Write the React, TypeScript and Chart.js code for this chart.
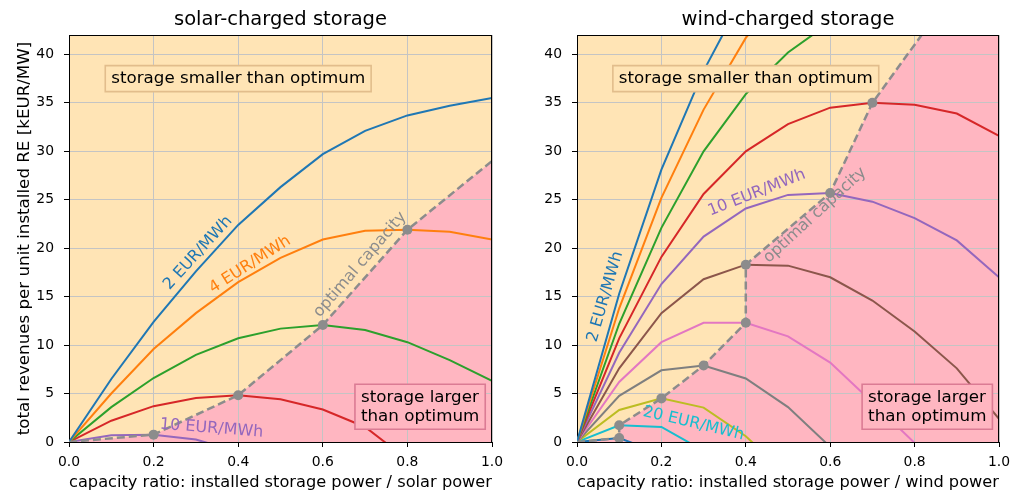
import React, { useEffect, useRef } from "react";
import { Chart, registerables } from "chart.js";

Chart.register(...registerables);

// ---------------- data ----------------
const capacityRatio = [0, 0.1, 0.2, 0.3, 0.4, 0.5, 0.6, 0.7, 0.8, 0.9, 1.0];
const xTickValues = [0, 0.2, 0.4, 0.6, 0.8, 1.0];
const yTickValues = [0, 5, 10, 15, 20, 25, 30, 35, 40];

// solar-charged storage, revenues per price spread (EUR/MWh)
const solarPrices = [2, 4, 6, 8, 10];
const solar2 = [0, 6.5, 12.4, 17.6, 22.4, 26.3, 29.7, 32.1, 33.7, 34.7, 35.5];
const solar4 = [0, 5.0, 9.6, 13.3, 16.5, 19.0, 20.9, 21.8, 21.9, 21.7, 20.9];
const solar6 = [0, 3.6, 6.6, 9.0, 10.7, 11.7, 12.07, 11.55, 10.3, 8.45, 6.3];
const solar8 = [0, 2.2, 3.7, 4.55, 4.83, 4.4, 3.35, 1.55, -1.8, -5.0, -8.5];
const solar10 = [0, 0.69, 0.76, 0.25, -1.0, -2.8, -5.0, -7.5, -10.0, -13.0, -16.0];
const solarOptimalX = [0, 0.2, 0.4, 0.6, 0.8, 1.0];
const solarOptimalY = [0, 0.76, 4.83, 12.07, 21.9, 29.0];
const solarOptimalMarker = [false, true, true, true, true, false];

// wind-charged storage
const windPrices = [2, 4, 6, 8, 10, 12, 14, 16, 18, 20, 22];
const wind2 = [0, 15.3, 28.1, 38.3, 46.5, 53, 58, 62, 65, 67, 68];
const wind4 = [0, 13.8, 25.2, 34.3, 41.7, 47, 51, 54, 56, 57, 57.5];
const wind6 = [0, 12.2, 22.1, 30.0, 35.9, 40.2, 43.3, 45.5, 47, 47.5, 47.5];
const wind8 = [0, 10.7, 19.1, 25.6, 30.0, 32.8, 34.5, 35.0, 34.8, 33.9, 31.6];
const wind10 = [0, 9.2, 16.3, 21.2, 24.1, 25.5, 25.7, 24.8, 23.1, 20.8, 17.0];
const wind12 = [0, 7.6, 13.3, 16.8, 18.3, 18.2, 17.0, 14.6, 11.4, 7.6, 2.4];
const wind14 = [0, 6.2, 10.3, 12.3, 12.3, 10.9, 8.2, 4.1, -0.1, -4.5, -9.0];
const wind16 = [0, 4.76, 7.4, 7.9, 6.55, 3.6, -0.5, -5.0, -10.0, -15.0, -20.0];
const wind18 = [0, 3.3, 4.5, 3.55, 0.6, -3.5, -8.0, -13.0, -18.0, -23.0, -28.0];
const wind20 = [0, 1.72, 1.55, -0.9, -4.0, -8.0, -12.0, -17.0, -22.0, -27.0, -32.0];
const wind22 = [0, 0.4, -1.2, -4.0, -8.0, -12.0, -16.0, -21.0, -26.0, -31.0, -36.0];
const windOptimalX = [0, 0.1, 0.1, 0.2, 0.3, 0.4, 0.4, 0.6, 0.7, 1.0];
const windOptimalY = [0, 0.4, 1.72, 4.5, 7.9, 12.3, 18.3, 25.7, 35.0, 53.0];
const windOptimalMarker = [false, true, true, true, true, true, true, true, true, false];

// text labels on the curves: [text, x, y, rotation(deg), colour index or -1 for grey]
const solarLabels: [string, number, number, number, number][] = [
  ["2 EUR/MWh", 0.305, 19.5, -47.6, 0],
  ["4 EUR/MWh", 0.428, 18.3, -32.6, 1],
  ["10 EUR/MWh", 0.337, 1.39, 4.5, 4],
  ["optimal capacity", 0.688, 18.3, -49.3, -1],
];
const windLabels: [string, number, number, number, number][] = [
  ["2 EUR/MWh", 0.067, 15.0, -73.8, 0],
  ["10 EUR/MWh", 0.426, 25.7, -21.5, 4],
  ["optimal capacity", 0.564, 23.4, -42.6, -1],
  ["20 EUR/MWh", 0.276, 1.9, 13.4, 9],
];

const smallerText = ["storage smaller than optimum"];
const largerText = ["storage larger", "than optimum"];

// ---------------- style ----------------
const TAB10 = ["#1f77b4", "#ff7f0e", "#2ca02c", "#d62728", "#9467bd", "#8c564b", "#e377c2", "#7f7f7f", "#bcbd22", "#17becf"];
const MOCCASIN = "#ffe4b5";
const PINK = "#ffb6c1";
const OPT_GREY = "#8c8c8c";
const GRID = "#c4c4c4";
const FONT = "'DejaVu Sans', sans-serif";

Chart.defaults.font.family = FONT;
Chart.defaults.color = "#000";

type LabelSpec = [string, number, number, number, number];

function makeConfig(opts: {
  title: string;
  xTitle: string;
  yTitle: string | null;
  yWidth: number;
  padRight: number;
  series: number[][];
  prices: number[];
  optX: number[];
  optY: number[];
  optMarker: boolean[];
  labels: LabelSpec[];
}): any {
  const { optX, optY } = opts;

  const datasets: any[] = [];
  datasets.push({
    label: "optimal capacity",
    data: optX.map((x, i) => ({ x, y: optY[i] })),
    borderColor: OPT_GREY,
    backgroundColor: OPT_GREY,
    borderWidth: 2.5,
    borderDash: [8, 4],
    pointRadius: opts.optMarker.map((m) => (m ? 5 : 0)),
    pointBorderWidth: 0,
    pointBackgroundColor: OPT_GREY,
    tension: 0,
    fill: false,
  });
  opts.series.forEach((s, i) => {
    datasets.push({
      label: `${opts.prices[i]} EUR/MWh`,
      data: capacityRatio.map((x, j) => ({ x, y: s[j] })),
      borderColor: TAB10[i % 10],
      backgroundColor: TAB10[i % 10],
      borderWidth: 2,
      pointRadius: 0,
      tension: 0,
      fill: false,
    });
  });

  const bgPlugin = {
    id: "regions",
    beforeDraw(chart: any) {
      const { ctx, chartArea: a, scales } = chart;
      const xs = scales.x, ys = scales.y;
      ctx.save();
      ctx.fillStyle = MOCCASIN;
      ctx.fillRect(a.left, a.top, a.right - a.left, a.bottom - a.top);
      ctx.beginPath();
      ctx.rect(a.left, a.top, a.right - a.left, a.bottom - a.top);
      ctx.clip();
      ctx.beginPath();
      optX.forEach((xv, i) => {
        const px = xs.getPixelForValue(xv);
        const py = ys.getPixelForValue(optY[i]);
        if (i === 0) ctx.moveTo(px, py);
        else ctx.lineTo(px, py);
      });
      ctx.lineTo(xs.getPixelForValue(xs.max), ys.getPixelForValue(ys.min));
      ctx.lineTo(xs.getPixelForValue(optX[0]), ys.getPixelForValue(ys.min));
      ctx.closePath();
      ctx.fillStyle = PINK;
      ctx.fill();
      ctx.restore();
    },
  };

  const drawBox = (ctx: any, lines: string[], cx: number, cy: number, face: string, edge: string) => {
    ctx.font = `16.7px ${FONT}`;
    const lh = 19;
    const w = Math.max(...lines.map((l) => ctx.measureText(l).width));
    const h = lines.length * lh;
    const padX = 6, padY = 3.5;
    ctx.fillStyle = face;
    ctx.strokeStyle = edge;
    ctx.lineWidth = 1.6;
    ctx.beginPath();
    ctx.rect(cx - w / 2 - padX, cy - h / 2 - padY, w + 2 * padX, h + 2 * padY);
    ctx.fill();
    ctx.stroke();
    ctx.fillStyle = "#000";
    ctx.textAlign = "left";
    ctx.textBaseline = "middle";
    lines.forEach((l, i) => {
      ctx.fillText(l, cx - w / 2, cy - h / 2 + lh * (i + 0.5));
    });
  };

  const textPlugin = {
    id: "texts",
    afterDatasetsDraw(chart: any) {
      const { ctx, chartArea: a, scales } = chart;
      const xs = scales.x, ys = scales.y;
      ctx.save();
      opts.labels.forEach(([t, x, y, rot, ci]) => {
        ctx.save();
        ctx.translate(xs.getPixelForValue(x), ys.getPixelForValue(y));
        ctx.rotate((rot * Math.PI) / 180);
        ctx.font = `16px ${FONT}`;
        ctx.fillStyle = ci < 0 ? OPT_GREY : TAB10[ci];
        ctx.textAlign = "center";
        ctx.textBaseline = "middle";
        ctx.fillText(t, 0, 0);
        ctx.restore();
      });
      drawBox(ctx, smallerText, xs.getPixelForValue(0.4), ys.getPixelForValue(37.5), MOCCASIN, "#e2bd8c");
      drawBox(ctx, largerText, xs.getPixelForValue(0.83), ys.getPixelForValue(3.64), PINK, "#db7b94");
      // frame top & right
      ctx.strokeStyle = "#000";
      ctx.lineWidth = 1;
      ctx.beginPath();
      ctx.moveTo(a.left, Math.round(a.top) + 0.5);
      ctx.lineTo(a.right, Math.round(a.top) + 0.5);
      ctx.moveTo(Math.round(a.right) - 0.5, a.top);
      ctx.lineTo(Math.round(a.right) - 0.5, a.bottom);
      ctx.stroke();
      // title centred over the plot area
      ctx.font = `19.5px ${FONT}`;
      ctx.fillStyle = "#000";
      ctx.textAlign = "center";
      ctx.textBaseline = "middle";
      ctx.fillText(opts.title, (a.left + a.right) / 2, 20);
      ctx.restore();
    },
  };

  return {
    type: "line",
    data: { datasets },
    plugins: [bgPlugin, textPlugin],
    options: {
      animation: false,
      responsive: false,
      devicePixelRatio: 1,
      layout: { padding: { left: 0, right: opts.padRight, top: 35, bottom: 0 } },
      plugins: {
        legend: { display: false },
        tooltip: { enabled: false },
        title: { display: false },
      },
      scales: {
        x: {
          type: "linear",
          min: 0,
          max: 1,
          afterBuildTicks: (scale: any) => {
            scale.ticks = xTickValues.map((v) => ({ value: v }));
          },
          ticks: {
            callback: (v: any) => Number(v).toFixed(1),
            font: { family: FONT, size: 13.9 },
            color: "#000",
            padding: 7,
            maxRotation: 0,
          },
          grid: { color: GRID, lineWidth: 1, tickLength: 5, tickColor: "#000", drawTicks: true },
          border: { color: "#000", width: 1 },
          title: {
            display: true,
            text: opts.xTitle,
            color: "#000",
            font: { family: FONT, size: 16.7 },
            padding: { top: 0, bottom: 2 },
          },
          afterFit: (s: any) => {
            s.height = 53;
            s.paddingLeft = 0;
            s.paddingRight = 0;
          },
        },
        y: {
          type: "linear",
          min: 0,
          max: 42,
          afterBuildTicks: (scale: any) => {
            scale.ticks = yTickValues.map((v) => ({ value: v }));
          },
          ticks: {
            font: { family: FONT, size: 13.9 },
            color: "#000",
            padding: 10,
          },
          grid: { color: GRID, lineWidth: 1, tickLength: 5, tickColor: "#000", drawTicks: true },
          border: { color: "#000", width: 1 },
          title: {
            display: !!opts.yTitle,
            text: opts.yTitle || "",
            color: "#000",
            font: { family: FONT, size: 16.7 },
            padding: { top: 15, bottom: 0 },
          },
          afterFit: (s: any) => {
            s.width = opts.yWidth;
            s.paddingTop = 0;
            s.paddingBottom = 0;
          },
        },
      },
    },
  };
}

export default function App() {
  const refA = useRef<HTMLCanvasElement>(null);
  const refB = useRef<HTMLCanvasElement>(null);

  useEffect(() => {
    document.body.style.margin = "0";
    const a = new Chart(
      refA.current!,
      makeConfig({
        title: "solar-charged storage",
        xTitle: "capacity ratio: installed storage power / solar power",
        yTitle: "total revenues per unit installed RE [kEUR/MW]",
        yWidth: 69,
        padRight: 13,
        series: [solar2, solar4, solar6, solar8, solar10],
        prices: solarPrices,
        optX: solarOptimalX,
        optY: solarOptimalY,
        optMarker: solarOptimalMarker,
        labels: solarLabels,
      })
    );
    const b = new Chart(
      refB.current!,
      makeConfig({
        title: "wind-charged storage",
        xTitle: "capacity ratio: installed storage power / wind power",
        yTitle: null,
        yWidth: 72,
        padRight: 12,
        series: [wind2, wind4, wind6, wind8, wind10, wind12, wind14, wind16, wind18, wind20, wind22],
        prices: windPrices,
        optX: windOptimalX,
        optY: windOptimalY,
        optMarker: windOptimalMarker,
        labels: windLabels,
      })
    );
    return () => {
      a.destroy();
      b.destroy();
    };
  }, []);

  return (
    <div style={{ position: "relative", width: 1011, height: 495, background: "#fff" }}>
      <div style={{ position: "absolute", left: 0, top: 0, width: 505, height: 495 }}>
        <canvas ref={refA} width={505} height={495} style={{ width: 505, height: 495, display: "block" }} />
      </div>
      <div style={{ position: "absolute", left: 505, top: 0, width: 506, height: 495 }}>
        <canvas ref={refB} width={506} height={495} style={{ width: 506, height: 495, display: "block" }} />
      </div>
    </div>
  );
}
